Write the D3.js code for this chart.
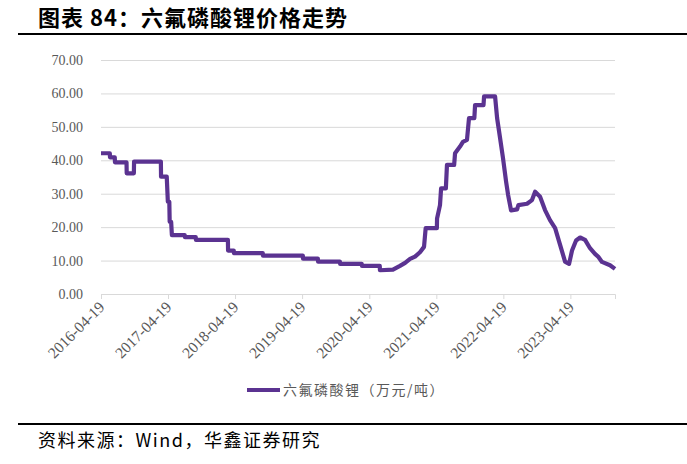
<!DOCTYPE html>
<html>
<head>
<meta charset="utf-8">
<style>
  html, body { margin: 0; padding: 0; background: #fff; }
  svg { display: block; }
  .title { font-family: "Noto Sans CJK SC", sans-serif; font-weight: 700; font-size: 22px; letter-spacing: 1px; fill: #000; }
  .source { font-family: "Noto Sans CJK SC", sans-serif; font-size: 18px; letter-spacing: 1.5px; fill: #000; }
  .legend text { font-family: "Noto Sans CJK SC", sans-serif; font-size: 14px; letter-spacing: 1.5px; fill: #595959; }
</style>
</head>
<body>
<svg width="687" height="464"></svg>
<script src="https://d3js.org/d3.v7.min.js"></script>
<script>
// price of LiPF6, 10k yuan / ton
var dates = [
  "2016-04-19", "2016-06-06", "2016-06-07", "2016-07-03", "2016-07-04", "2016-09-05",
  "2016-09-06", "2016-10-15", "2016-10-16", "2017-03-11", "2017-03-12", "2017-04-12",
  "2017-04-18", "2017-04-26", "2017-04-28", "2017-05-06", "2017-05-10", "2017-07-19",
  "2017-07-20", "2017-09-17", "2017-09-18", "2018-03-11", "2018-03-12", "2018-04-12",
  "2018-04-13", "2018-09-17", "2018-09-18", "2019-04-23", "2019-04-24", "2019-07-14",
  "2019-07-15", "2019-11-11", "2019-11-12", "2020-03-09", "2020-03-10", "2020-06-15",
  "2020-06-16", "2020-08-26", "2020-10-03", "2020-10-31", "2020-11-27", "2020-12-24",
  "2021-01-20", "2021-02-11", "2021-02-20", "2021-04-22", "2021-04-23", "2021-05-09",
  "2021-05-15", "2021-06-10", "2021-06-16", "2021-07-25", "2021-07-30", "2021-08-26",
  "2021-09-11", "2021-10-03", "2021-10-14", "2021-11-12", "2021-11-16", "2022-01-01",
  "2022-01-04", "2022-03-05", "2022-03-16", "2022-04-01", "2022-04-17", "2022-05-04",
  "2022-05-15", "2022-05-31", "2022-07-03", "2022-07-10", "2022-08-26", "2022-09-22",
  "2022-10-09", "2022-11-05", "2022-12-02", "2022-12-29", "2023-01-26", "2023-02-22",
  "2023-03-21", "2023-04-12", "2023-04-28", "2023-05-20", "2023-06-11", "2023-07-08",
  "2023-08-04", "2023-08-31", "2023-09-17", "2023-10-08", "2023-11-21", "2023-12-18"
];
var prices = [
  42.1, 42.1, 40.9, 40.9, 39.4, 39.4,
  36.1, 36.1, 39.6, 39.6, 35.1, 35.1,
  27.6, 27.6, 21.6, 21.6, 17.6, 17.6,
  17.0, 17.0, 16.2, 16.2, 13.0, 13.0,
  12.2, 12.2, 11.5, 11.5, 10.6, 10.6,
  9.7, 9.7, 9.0, 9.0, 8.4, 8.4,
  7.1, 7.3, 8.4, 9.3, 10.5, 11.2,
  12.5, 14.1, 19.7, 19.7, 22.6, 26.6,
  31.6, 31.6, 38.6, 38.6, 42.1, 44.1,
  45.5, 46.1, 52.6, 52.6, 56.5, 56.5,
  59.1, 59.1, 52.6, 46.7, 40.7, 33.6,
  29.6, 25.0, 25.3, 26.6, 27.0, 28.1,
  30.6, 29.1, 25.1, 22.1, 19.7, 14.7,
  9.7, 9.0, 13.0, 16.0, 16.9, 16.2,
  13.7, 12.0, 11.2, 9.6, 8.6, 7.5
];
var xTicks = ["2016-04-19", "2017-04-19", "2018-04-19", "2019-04-19",
              "2020-04-19", "2021-04-19", "2022-04-19", "2023-04-19"];
var yTicks = [0, 10, 20, 30, 40, 50, 60, 70];
var seriesName = "六氟磷酸锂（万元/吨）";
var titleText = "图表 84：六氟磷酸锂价格走势";
var sourceText = "资料来源：Wind，华鑫证券研究";

var parse = d3.timeParse("%Y-%m-%d");
var data = dates.map(function(d, i) { return { date: parse(d), value: prices[i] }; });

var svg = d3.select("svg");
var plotLeft = 101, plotRight = 615, plotTop = 60, plotBottom = 294;
var lineColor = "#5b3391";
var gridColor = "#d9d9d9";
var tickFont = "'Liberation Serif', 'Times New Roman', serif";

var x = d3.scaleTime()
  .domain([parse(dates[0]), parse(dates[dates.length - 1])])
  .range([plotLeft, plotRight]);
var y = d3.scaleLinear().domain([0, 70]).range([plotBottom, plotTop]);

// title and rules
svg.append("text").attr("class", "title").attr("x", 38).attr("y", 26).text(titleText);
svg.append("line").attr("x1", 18).attr("x2", 687).attr("y1", 34).attr("y2", 34)
  .attr("stroke", "#000").attr("stroke-width", 2);
svg.append("line").attr("x1", 18).attr("x2", 687).attr("y1", 424).attr("y2", 424)
  .attr("stroke", "#000").attr("stroke-width", 2);
svg.append("text").attr("class", "source").attr("x", 38).attr("y", 447).text(sourceText);

// y axis with gridlines
var yAxis = svg.append("g")
  .attr("transform", "translate(" + plotLeft + ",0)")
  .call(d3.axisLeft(y).tickValues(yTicks).tickSize(-(plotRight - plotLeft)).tickPadding(18)
    .tickFormat(d3.format(".2f")));
yAxis.attr("font-family", tickFont).attr("font-size", 14);
yAxis.select(".domain").remove();
yAxis.selectAll(".tick line").attr("stroke", gridColor);
yAxis.selectAll(".tick text").attr("fill", "#595959");

// x axis
var xAxis = svg.append("g")
  .attr("transform", "translate(0," + plotBottom + ")")
  .call(d3.axisBottom(x).tickValues(xTicks.map(parse)).tickSize(5)
    .tickFormat(d3.timeFormat("%Y-%m-%d")));
xAxis.attr("font-family", tickFont).attr("font-size", 15.5);
xAxis.select(".domain").attr("stroke", gridColor);
xAxis.selectAll(".tick line").attr("stroke", gridColor);
xAxis.selectAll(".tick text")
  .attr("fill", "#595959")
  .attr("text-anchor", "end")
  .attr("dy", null)
  .attr("y", 0)
  .attr("transform", "translate(4,14) rotate(-45)");

// line
var line = d3.line()
  .x(function(d) { return x(d.date); })
  .y(function(d) { return y(d.value); });
svg.append("path")
  .datum(data)
  .attr("fill", "none")
  .attr("stroke", lineColor)
  .attr("stroke-width", 4.2)
  .attr("stroke-linejoin", "round")
  .attr("d", line);

// legend
var legend = svg.append("g").attr("class", "legend");
legend.append("line").attr("x1", 247).attr("x2", 280).attr("y1", 390).attr("y2", 390)
  .attr("stroke", lineColor).attr("stroke-width", 4);
legend.append("text").attr("x", 283).attr("y", 395).text(seriesName);
</script>
</body>
</html>
